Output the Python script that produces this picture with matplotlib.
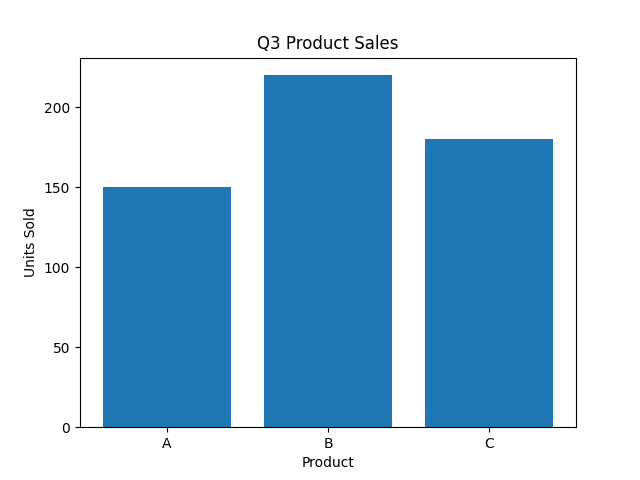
import matplotlib
matplotlib.use("Agg")
import matplotlib.pyplot as plt

products = ["A", "B", "C"]
units_sold = [150, 220, 180]

fig, ax = plt.subplots(figsize=(6.4, 4.8), dpi=100)
ax.bar(products, units_sold)
ax.set_title("Q3 Product Sales")
ax.set_xlabel("Product")
ax.set_ylabel("Units Sold")
fig.savefig("out.png")
